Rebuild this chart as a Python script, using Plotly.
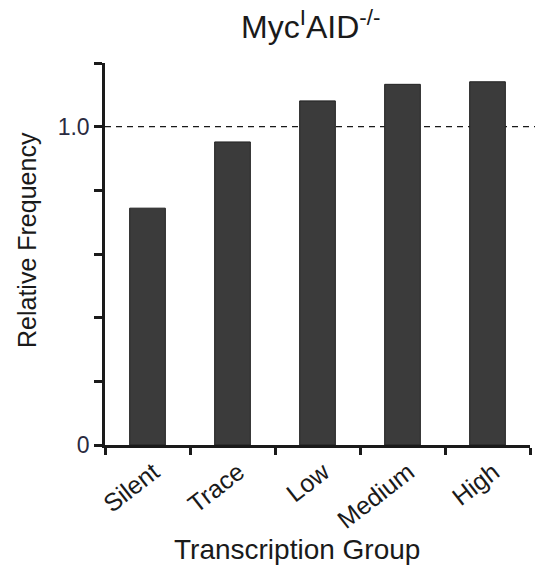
import plotly.graph_objects as go

# Relative frequency per transcription group
groups = ["Silent", "Trace", "Low", "Medium", "High"]
rel_freq = [0.744, 0.952, 1.081, 1.133, 1.141]

y_tick_vals = [0, 0.2, 0.4, 0.6, 0.8, 1.0, 1.2]
y_tick_text = ["0", "", "", "", "", "1.0", ""]
reference_level = 1.0

font_family = "Liberation Sans, Arial, Helvetica, sans-serif"
ink = "#1a1a1a"

fig = go.Figure()
fig.add_trace(go.Bar(
    x=groups,
    y=rel_freq,
    marker=dict(color="#3b3b3b", line=dict(color="#222222", width=1)),
    showlegend=False,
))

# dashed reference line at relative frequency 1.0
fig.add_shape(
    type="line", xref="paper", yref="y",
    x0=0, x1=1.015, y0=reference_level, y1=reference_level,
    line=dict(color=ink, width=1.3, dash="6px,5px"),
    layer="below",
)

fig.update_layout(
    width=535, height=567,
    margin=dict(l=105, r=5, t=63, b=122),
    paper_bgcolor="white", plot_bgcolor="white",
    bargap=0.58,
    font=dict(family=font_family, color=ink),
    xaxis=dict(
        type="category",
        showline=True, linecolor=ink, linewidth=2.5,
        ticks="outside", tickson="boundaries", ticklen=7, tickwidth=2.5, tickcolor=ink,
        tickangle=-38, tickfont=dict(size=25, color=ink),
        ticklabelshift=6,
        showgrid=False, zeroline=False,
        range=[-0.5, 4.5],
    ),
    yaxis=dict(
        range=[0, 1.2],
        showline=True, linecolor=ink, linewidth=2.5,
        ticks="outside", ticklen=8, tickwidth=2.5, tickcolor=ink,
        tickvals=y_tick_vals, ticktext=y_tick_text,
        tickfont=dict(size=23, color="#2a2a40"),
        showgrid=False, zeroline=False,
    ),
    annotations=[
        dict(text="Myc<sup>I</sup>AID<sup>-/-</sup>", xref="paper", yref="paper",
             x=(310 - 105) / 425, y=1 + (63 - 25) / 382, xanchor="center", yanchor="middle",
             showarrow=False, font=dict(size=32, color=ink)),
        dict(text="Relative Frequency", xref="paper", yref="paper",
             x=(27 - 105) / 425, y=(445 - 240) / 382, xanchor="center", yanchor="middle",
             textangle=-90, showarrow=False, font=dict(size=25, color=ink)),
        dict(text="Transcription Group", xref="paper", yref="paper",
             x=(297 - 105) / 425, y=-(549 - 445) / 382, xanchor="center", yanchor="middle",
             showarrow=False, font=dict(size=28, color=ink)),
    ],
)

fig.write_html("out.html")
